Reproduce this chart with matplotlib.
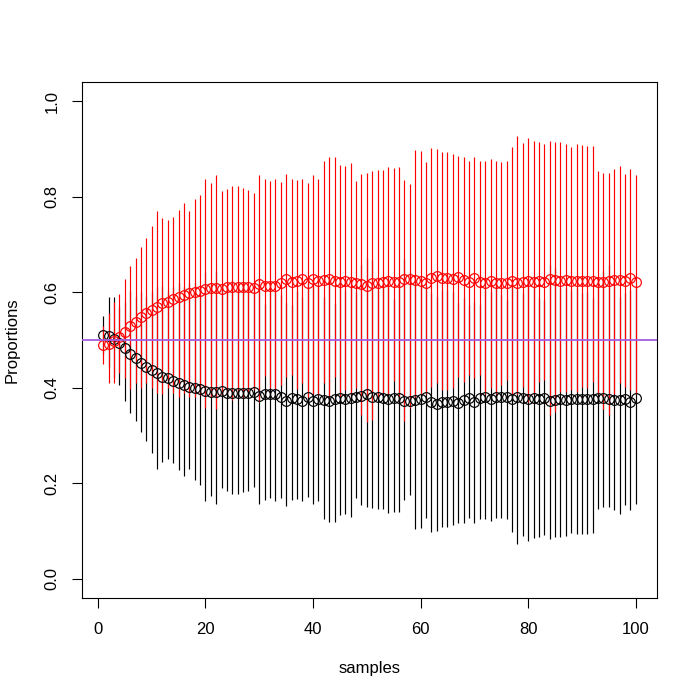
import matplotlib
matplotlib.use("Agg")
import matplotlib.pyplot as plt
import numpy as np

plt.rcParams["font.family"] = ["Liberation Sans", "DejaVu Sans"]

samples = np.arange(1, 101)

# red group: mean proportion and interval ends
red_mean = [0.490, 0.492, 0.497, 0.507, 0.517, 0.529, 0.538, 0.549, 0.556, 0.563,
            0.570, 0.577, 0.580, 0.585, 0.591, 0.595, 0.598, 0.600, 0.603, 0.606,
            0.609, 0.608, 0.606, 0.610, 0.611, 0.610, 0.611, 0.610, 0.609, 0.617,
            0.614, 0.612, 0.612, 0.619, 0.627, 0.621, 0.623, 0.627, 0.619, 0.627,
            0.624, 0.625, 0.627, 0.624, 0.622, 0.623, 0.622, 0.620, 0.617, 0.614,
            0.620, 0.620, 0.621, 0.624, 0.621, 0.622, 0.628, 0.627, 0.625, 0.624,
            0.620, 0.629, 0.634, 0.630, 0.629, 0.627, 0.632, 0.625, 0.622, 0.630,
            0.622, 0.619, 0.624, 0.620, 0.619, 0.620, 0.623, 0.620, 0.622, 0.623,
            0.622, 0.624, 0.622, 0.628, 0.625, 0.623, 0.625, 0.624, 0.624, 0.624,
            0.624, 0.623, 0.622, 0.622, 0.624, 0.625, 0.625, 0.623, 0.630, 0.622]
red_lo = [0.450, 0.410, 0.410, 0.430, 0.420, 0.397, 0.410, 0.400, 0.409, 0.400,
          0.390, 0.388, 0.400, 0.390, 0.380, 0.390, 0.381, 0.380, 0.385, 0.357,
          0.380, 0.355, 0.385, 0.390, 0.375, 0.395, 0.380, 0.392, 0.398, 0.370,
          0.425, 0.400, 0.397, 0.406, 0.423, 0.427, 0.397, 0.409, 0.381, 0.388,
          0.385, 0.411, 0.381, 0.423, 0.381, 0.395, 0.388, 0.400, 0.343, 0.329,
          0.333, 0.381, 0.390, 0.388, 0.415, 0.371, 0.331, 0.357, 0.381, 0.388,
          0.388, 0.402, 0.409, 0.395, 0.395, 0.400, 0.423, 0.413, 0.427, 0.420,
          0.427, 0.388, 0.399, 0.388, 0.406, 0.416, 0.388, 0.388, 0.402, 0.371,
          0.388, 0.413, 0.416, 0.343, 0.350, 0.392, 0.392, 0.395, 0.392, 0.402,
          0.399, 0.413, 0.388, 0.355, 0.342, 0.388, 0.409, 0.402, 0.395, 0.388]
red_hi = [0.530, 0.556, 0.580, 0.596, 0.628, 0.655, 0.671, 0.694, 0.713, 0.738,
          0.771, 0.755, 0.751, 0.757, 0.773, 0.787, 0.771, 0.796, 0.803, 0.838,
          0.828, 0.845, 0.811, 0.817, 0.822, 0.822, 0.819, 0.815, 0.808, 0.845,
          0.837, 0.832, 0.837, 0.831, 0.847, 0.838, 0.834, 0.838, 0.829, 0.845,
          0.838, 0.875, 0.882, 0.882, 0.867, 0.865, 0.871, 0.832, 0.847, 0.849,
          0.854, 0.856, 0.855, 0.863, 0.859, 0.862, 0.835, 0.826, 0.897, 0.896,
          0.872, 0.902, 0.900, 0.893, 0.893, 0.890, 0.886, 0.884, 0.874, 0.884,
          0.874, 0.875, 0.879, 0.874, 0.873, 0.874, 0.904, 0.928, 0.913, 0.922,
          0.916, 0.914, 0.910, 0.916, 0.914, 0.914, 0.911, 0.904, 0.911, 0.908,
          0.907, 0.906, 0.854, 0.850, 0.849, 0.858, 0.865, 0.847, 0.857, 0.845]

# black group
black_mean = [0.510, 0.508, 0.503, 0.493, 0.483, 0.471, 0.462, 0.451, 0.444, 0.437,
              0.430, 0.423, 0.420, 0.415, 0.409, 0.405, 0.402, 0.400, 0.397, 0.394,
              0.391, 0.392, 0.394, 0.390, 0.389, 0.390, 0.389, 0.390, 0.391, 0.383,
              0.386, 0.388, 0.388, 0.381, 0.373, 0.379, 0.377, 0.373, 0.381, 0.373,
              0.376, 0.375, 0.373, 0.376, 0.378, 0.377, 0.378, 0.380, 0.383, 0.386,
              0.380, 0.380, 0.379, 0.376, 0.379, 0.378, 0.372, 0.373, 0.375, 0.376,
              0.380, 0.371, 0.366, 0.370, 0.371, 0.373, 0.368, 0.375, 0.378, 0.370,
              0.378, 0.381, 0.376, 0.380, 0.381, 0.380, 0.377, 0.380, 0.378, 0.377,
              0.378, 0.376, 0.378, 0.372, 0.375, 0.377, 0.375, 0.376, 0.376, 0.376,
              0.376, 0.377, 0.378, 0.378, 0.376, 0.375, 0.375, 0.377, 0.370, 0.378]
black_lo = [0.470, 0.444, 0.420, 0.406, 0.372, 0.347, 0.330, 0.307, 0.288, 0.263,
            0.231, 0.245, 0.250, 0.243, 0.228, 0.215, 0.230, 0.206, 0.196, 0.163,
            0.173, 0.156, 0.190, 0.184, 0.178, 0.178, 0.181, 0.185, 0.192, 0.156,
            0.165, 0.170, 0.164, 0.170, 0.153, 0.165, 0.167, 0.163, 0.172, 0.157,
            0.163, 0.126, 0.119, 0.119, 0.134, 0.135, 0.130, 0.169, 0.154, 0.151,
            0.149, 0.146, 0.146, 0.137, 0.141, 0.139, 0.165, 0.175, 0.104, 0.106,
            0.128, 0.099, 0.100, 0.109, 0.109, 0.113, 0.116, 0.116, 0.128, 0.116,
            0.126, 0.126, 0.122, 0.128, 0.128, 0.126, 0.098, 0.074, 0.089, 0.079,
            0.085, 0.087, 0.091, 0.084, 0.088, 0.088, 0.089, 0.097, 0.093, 0.095,
            0.094, 0.096, 0.147, 0.151, 0.151, 0.144, 0.136, 0.154, 0.144, 0.157]
black_hi = [0.550, 0.590, 0.590, 0.570, 0.580, 0.603, 0.590, 0.600, 0.591, 0.600,
            0.610, 0.612, 0.600, 0.610, 0.620, 0.610, 0.619, 0.620, 0.615, 0.643,
            0.620, 0.645, 0.615, 0.610, 0.625, 0.605, 0.620, 0.608, 0.602, 0.630,
            0.575, 0.600, 0.603, 0.594, 0.577, 0.573, 0.603, 0.591, 0.619, 0.612,
            0.615, 0.589, 0.619, 0.577, 0.619, 0.605, 0.612, 0.600, 0.657, 0.671,
            0.667, 0.619, 0.610, 0.612, 0.585, 0.629, 0.669, 0.643, 0.619, 0.612,
            0.612, 0.598, 0.591, 0.605, 0.605, 0.600, 0.577, 0.587, 0.573, 0.580,
            0.573, 0.612, 0.601, 0.612, 0.594, 0.584, 0.612, 0.612, 0.598, 0.629,
            0.612, 0.587, 0.584, 0.657, 0.650, 0.608, 0.608, 0.605, 0.608, 0.598,
            0.601, 0.587, 0.612, 0.645, 0.658, 0.612, 0.591, 0.598, 0.605, 0.612]

REF_LEVEL = 0.5

fig = plt.figure(figsize=(7, 7), dpi=100)
ax = fig.add_axes([82 / 700, 1 - 598 / 700, 575 / 700, 516 / 700])

# interval segments, black first then red on top
ax.vlines(samples, black_lo, black_hi, color="black", lw=0.85, zorder=2)
ax.vlines(samples, red_lo, red_hi, color="red", lw=0.85, zorder=3)

ax.plot(samples, black_mean, "o", mfc="none", mec="black", ms=7, mew=0.85, zorder=4)
ax.plot(samples, red_mean, "o", mfc="none", mec="red", ms=7, mew=0.85, zorder=5)

ax.axhline(REF_LEVEL, color="#a35ee0", lw=1.3, zorder=6)

ax.set_xlim(1 - 0.04 * 99, 100 + 0.04 * 99)
ax.set_ylim(-0.04, 1.04)
ax.set_xticks([0, 20, 40, 60, 80, 100])
ax.set_yticks([0.0, 0.2, 0.4, 0.6, 0.8, 1.0])
ax.set_yticklabels(["0.0", "0.2", "0.4", "0.6", "0.8", "1.0"], rotation=90, va="center")
ax.tick_params(direction="out", length=7.2, width=0.8, labelsize=12, colors="black")
ax.tick_params(axis="x", pad=10)
ax.tick_params(axis="y", pad=9)
for s in ax.spines.values():
    s.set_linewidth(0.8)
    s.set_color("black")

fig.text(369.5 / 700, 1 - 668 / 700, "samples", ha="center", va="center", fontsize=12)
fig.text(12 / 700, 1 - 340 / 700, "Proportions", ha="center", va="center",
         rotation=90, fontsize=12)

fig.savefig("out.png", dpi=100, facecolor="white")
